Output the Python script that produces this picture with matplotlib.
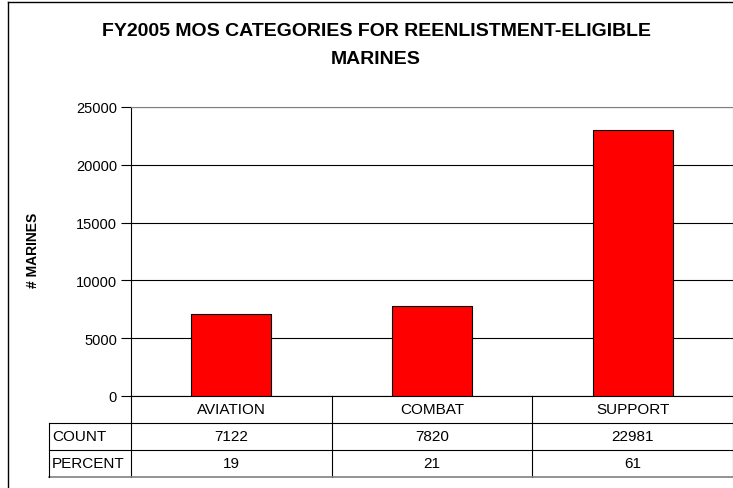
import matplotlib
matplotlib.use("Agg")
import matplotlib.pyplot as plt
from matplotlib.lines import Line2D

plt.rcParams['font.family'] = ['Liberation Sans', 'DejaVu Sans']

categories = ["AVIATION", "COMBAT", "SUPPORT"]
counts = [7122, 7820, 22981]
percents = [19, 21, 61]
row_labels = ["COUNT", "PERCENT"]
yticks = [0, 5000, 10000, 15000, 20000, 25000]

W, H = 733, 489
fig = plt.figure(figsize=(W / 100, H / 100), dpi=100)

def px_box(x0, y0, x1, y1):
    # pixel box (top-left origin) -> figure fraction rect
    return [x0 / W, 1 - y1 / H, (x1 - x0) / W, (y1 - y0) / H]

# outer chart frame
fig.add_artist(Line2D([8 / W, 8 / W], [0, 1 - 3 / H], color="black", lw=1))
fig.add_artist(Line2D([8 / W, 1], [1 - 3 / H, 1 - 3 / H], color="black", lw=1))

ax = fig.add_axes(px_box(131, 108, 733, 397))
x = list(range(len(categories)))
ax.bar(x, counts, width=0.4, color="#FF0000", edgecolor="black", linewidth=0.8, zorder=3)
ax.set_xlim(-0.5, 2.5)
ax.set_ylim(0, 25000)
ax.set_yticks(yticks)
ax.set_yticklabels([str(t) for t in yticks], fontsize=10.5)
ax.set_xticks([])
ax.yaxis.grid(True, color="black", lw=0.8, zorder=0)
ax.tick_params(axis="y", length=7, width=0.8, pad=3, direction="out")
for s in ["top", "right"]:
    ax.spines[s].set_color("#808080")
ax.spines["left"].set_color("black")
ax.spines["bottom"].set_color("black")
for s in ax.spines.values():
    s.set_linewidth(0.8)

fig.text(33 / W, 1 - 250 / H, "# MARINES", rotation=90, ha="center", va="center",
         fontsize=10, fontweight="bold")

fig.text(376 / W, 1 - 32 / H, "FY2005 MOS CATEGORIES FOR REENLISTMENT-ELIGIBLE",
         ha="center", va="center", fontsize=14, fontweight="bold")
fig.text(376 / W, 1 - 59 / H, "MARINES",
         ha="center", va="center", fontsize=14, fontweight="bold")

# data table under the axis, same x scale as the bars
tab = fig.add_axes(px_box(131, 397, 733, 478))
tab.set_xlim(-0.5, 2.5)
tab.set_ylim(3, 0)
tab.axis("off")
lab_left = -0.5 - 82 / 200.67
lc = "black"
lw = 0.8
for xv in [-0.5, 0.5, 1.5, 2.5]:
    tab.plot([xv, xv], [0, 3], color=lc, lw=lw, clip_on=False)
for yv in [1, 2]:
    tab.plot([lab_left, 2.5], [yv, yv], color=lc, lw=lw, clip_on=False)
tab.plot([lab_left, 2.5], [3, 3], color="#808080", lw=1.2, clip_on=False)
tab.plot([lab_left, lab_left], [1, 3], color=lc, lw=lw, clip_on=False)

fs = 11
for i, c in enumerate(categories):
    tab.text(i, 0.5, c, ha="center", va="center", fontsize=fs)
    tab.text(i, 1.5, str(counts[i]), ha="center", va="center", fontsize=fs)
    tab.text(i, 2.5, str(percents[i]), ha="center", va="center", fontsize=fs)
for r, lab in enumerate(row_labels):
    tab.text(lab_left + 0.015, r + 1.5, lab, ha="left", va="center", fontsize=fs, clip_on=False)

fig.savefig("out.png", dpi=100)
